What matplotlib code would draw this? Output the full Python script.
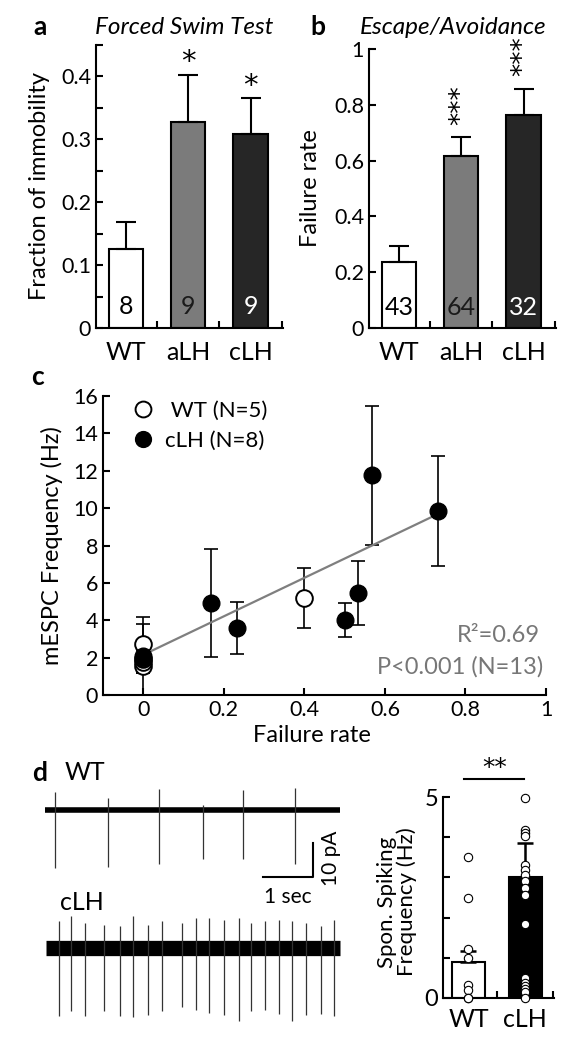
import numpy as np
import matplotlib.pyplot as plt

plt.rcParams['font.family'] = ['Lato', 'DejaVu Sans']
plt.rcParams['axes.linewidth'] = 1.5

W, H = 573, 1050


def box(left, top, right, bottom):
    # pixel box -> figure fraction [l, b, w, h]
    return [left / W, 1 - bottom / H, (right - left) / W, (bottom - top) / H]


def fxy(x, y):
    return x / W, 1 - y / H


# ---- data ----
groups = ['WT', 'aLH', 'cLH']
bar_colors = ['white', '#7b7b7b', '#262626']
count_colors = ['black', '#1a1a1a', 'white']

fst_mean = [0.125, 0.327, 0.309]
fst_sem = [0.043, 0.076, 0.056]
fst_n = ['8', '9', '9']
fst_stars = ['', '*', '*']

ea_mean = [0.237, 0.616, 0.765]
ea_sem = [0.057, 0.068, 0.093]
ea_n = ['43', '64', '32']
ea_stars = ['', '***', '***']

wt_fail = [0, 0, 0, 0, 0.4]
wt_freq = [2.75, 1.55, 1.75, 1.9, 5.2]
wt_freq_err = [1.4, 0.35, 2.05, 0.7, 1.6]
clh_fail = [0, 0, 0.167, 0.233, 0.5, 0.533, 0.567, 0.733]
clh_freq = [2.1, 2.0, 4.93, 3.6, 4.0, 5.45, 11.75, 9.85]
clh_freq_err = [0.3, 0.5, 2.9, 1.4, 0.9, 1.7, 3.7, 2.95]
fit_x = [0, 0.733]
fit_y = [2.15, 9.7]

wt_dur = 5.9
wt_spike_t = [0.2, 1.25, 2.28, 3.15, 3.95, 4.99]
wt_spike_down = [17.0, 16.8, 15.9, 14.4, 14.4, 15.9]
wt_spike_up = [5.3, 3.5, 6.2, 1.5, 5.9, 6.5]
clh_dur = 5.9
clh_spike_t = [0.27, 0.52, 0.8, 1.18, 1.5, 1.76, 2.06, 2.34, 2.74, 3.02,
               3.28, 3.58, 3.88, 4.12, 4.4, 4.68, 4.94, 5.22, 5.52, 5.78]
clh_spike_down = [19.9, 18.6, 19.9, 18.6, 20.1, 20.3, 19.6, 18.6, 17.2, 18.1,
                  19.1, 19.6, 21.4, 18.6, 18.3, 19.3, 21.6, 19.6, 19.3, 20.1]
clh_spike_up = [7.8, 9.3, 7.5, 6.9, 6.4, 9.3, 6.9, 7.8, 7.5, 8.8,
                8.8, 8.3, 8.8, 7.4, 7.8, 8.3, 7.8, 7.4, 6.4, 8.3]

spike_groups = ['WT', 'cLH']
spike_mean = [0.9, 3.0]
spike_sem = [0.27, 0.85]
spike_wt_pts = [3.5, 2.5, 1.22, 1.0, 0.32, 0.2, 0.0, 0.0]
spike_clh_pts = [4.98, 4.19, 4.1, 4.03, 3.3, 3.18, 3.06, 2.92, 2.73, 2.56,
                 1.84, 0.5, 0.37, 0.29, 0.22, 0.15, 0.0]

TICK = 15.5
CAT = 18
LAB = 17

fig = plt.figure(figsize=(W / 100, H / 100), dpi=100)


def bar_panel(ax, mean, sem, counts, stars, ylim, yticks, ylabels, star_rot):
    x = np.arange(len(mean))
    ax.bar(x, mean, width=0.55, color=bar_colors, edgecolor='black', linewidth=1.5)
    ax.errorbar(x, mean, yerr=[np.zeros(len(sem)), sem], fmt='none', ecolor='black',
                elinewidth=1.5, capsize=7, capthick=1.5)
    for i in range(len(mean)):
        ax.text(i, 0.075, counts[i], transform=ax.get_xaxis_transform(), ha='center',
                va='center', fontsize=CAT, color=count_colors[i])
        if stars[i]:
            if star_rot:
                ax.annotate(stars[i], xy=(i, mean[i] + sem[i]), xytext=(0, 9),
                            textcoords='offset points', ha='center', va='bottom',
                            rotation=90, fontsize=19, family='DejaVu Sans')
            else:
                ax.annotate(stars[i], xy=(i, mean[i] + sem[i]), xytext=(0, -1),
                            textcoords='offset points', ha='center', va='bottom',
                            fontsize=21, family='DejaVu Sans')
    ax.set_xlim(-0.48, 2.52)
    ax.set_ylim(*ylim)
    ax.set_yticks(yticks, ylabels)
    ax.set_xticks([0.5, 1.5, 2.5], ['', '', ''])
    ax.set_xticks(x, groups, minor=True)
    ax.tick_params(axis='x', which='minor', length=0, labelsize=CAT, pad=9)
    ax.tick_params(axis='both', which='major', direction='in', length=5, width=1.5,
                   labelsize=TICK)
    ax.spines[['top', 'right']].set_visible(False)


# a
ax_a = fig.add_axes(box(96, 45, 283, 328))
bar_panel(ax_a, fst_mean, fst_sem, fst_n, fst_stars, (0, 0.45),
          [0, 0.1, 0.2, 0.3, 0.4], ['0', '0.1', '0.2', '0.3', '0.4'], 0)
ax_a.set_yticks([0.05, 0.15, 0.25, 0.35, 0.45], minor=True)
ax_a.tick_params(axis='y', which='minor', direction='in', length=5, width=1.5)
fig.text(*fxy(40, 27), 'a', fontsize=19, fontweight='bold', ha='center', va='center')
fig.text(*fxy(184, 27), 'Forced Swim Test', fontsize=17.5, style='italic', ha='center', va='center')
fig.text(*fxy(40, 186), 'Fraction of immobility', fontsize=LAB, rotation=90, ha='center', va='center')

# b
ax_b = fig.add_axes(box(369, 49, 556, 328))
bar_panel(ax_b, ea_mean, ea_sem, ea_n, ea_stars, (0, 1),
          [0, 0.2, 0.4, 0.6, 0.8, 1.0], ['0', '0.2', '0.4', '0.6', '0.8', '1'], 90)
fig.text(*fxy(318, 27), 'b', fontsize=19, fontweight='bold', ha='center', va='center')
fig.text(*fxy(453, 27), 'Escape/Avoidance', fontsize=17.5, style='italic', ha='center', va='center')
fig.text(*fxy(310, 188), 'Failure rate', fontsize=LAB, rotation=90, ha='center', va='center')

# c
ax_c = fig.add_axes(box(103, 396, 546, 695))
ax_c.plot(fit_x, fit_y, color='#7f7f7f', lw=1.6, zorder=4)
ax_c.errorbar(wt_fail, wt_freq, yerr=wt_freq_err, fmt='none', ecolor='black',
              elinewidth=1.2, capsize=5, capthick=1.2, zorder=2)
ax_c.errorbar(clh_fail, clh_freq, yerr=clh_freq_err, fmt='none', ecolor='black',
              elinewidth=1.2, capsize=5, capthick=1.2, zorder=2)
ax_c.plot(wt_fail, wt_freq, 'o', ms=12, mfc='white', mec='black', mew=1.4, ls='none',
          zorder=3, label=' WT (N=5)')
ax_c.plot(clh_fail, clh_freq, 'o', ms=12, mfc='black', mec='black', ls='none',
          zorder=5, label='cLH (N=8)')
ax_c.set_xlim(-0.1, 1.0)
ax_c.set_ylim(0, 16)
ax_c.set_xticks(np.arange(0, 1.01, 0.2), ['0', '0.2', '0.4', '0.6', '0.8', '1'])
ax_c.set_yticks(np.arange(0, 17, 2))
ax_c.tick_params(direction='in', length=5, width=1.5, labelsize=TICK)
ax_c.spines[['top', 'right']].set_visible(False)
ax_c.legend(loc='upper left', bbox_to_anchor=(0.06, 0.985), frameon=False, fontsize=16,
            borderpad=0, borderaxespad=0, handletextpad=0.4, labelspacing=0.45,
            handlelength=1.2, markerscale=0.95)
fig.text(*fxy(540, 635), 'R²=0.69', fontsize=17, color='#777777', ha='right', va='center')
fig.text(*fxy(543, 667), 'P<0.001 (N=13)', fontsize=17, color='#777777', ha='right', va='center')
fig.text(*fxy(37, 377), 'c', fontsize=19, fontweight='bold', ha='center', va='center')
fig.text(*fxy(52, 546), 'mESPC Frequency (Hz)', fontsize=LAB, rotation=90, ha='center', va='center')
fig.text(*fxy(312, 735), 'Failure rate', fontsize=LAB, ha='center', va='center')

# d traces
ax_t = fig.add_axes(box(40, 780, 345, 1030))
ax_t.set_xlim(-0.1, 6.0)
ax_t.set_ylim(-64.7, 8.8)
ax_t.axis('off')
clh_base = -40.6
ax_t.plot([0, wt_dur], [0, 0], color='black', lw=4, solid_capstyle='butt')
ax_t.vlines(wt_spike_t, -np.array(wt_spike_down), wt_spike_up, color='#333333', lw=0.9)
ax_t.plot([0.02, clh_dur], [clh_base, clh_base], color='black', lw=11, solid_capstyle='butt')
ax_t.vlines(clh_spike_t, clh_base - np.array(clh_spike_down),
            clh_base + np.array(clh_spike_up), color='#333333', lw=0.9)
ax_t.plot([4.36, 5.36, 5.36], [-19.7, -19.7, -9.7], color='black', lw=1.5)
ax_t.text(4.86, -25.5, '1 sec', fontsize=15, ha='center', va='center')
ax_t.text(5.72, -14.2, '10 pA', fontsize=15, rotation=90, ha='center', va='center')
fig.text(*fxy(40, 773), 'd', fontsize=19, fontweight='bold', ha='center', va='center')
fig.text(*fxy(85, 773), 'WT', fontsize=CAT, ha='center', va='center')
fig.text(*fxy(82, 903), 'cLH', fontsize=CAT, ha='center', va='center')

# d bar chart
ax_d = fig.add_axes(box(443, 797, 554, 998))
ax_d.bar([0, 1], spike_mean, width=0.58, color=['white', 'black'], edgecolor='black', linewidth=1.5)
ax_d.errorbar([0, 1], spike_mean, yerr=[[0, 0], spike_sem], fmt='none', ecolor='black',
              elinewidth=1.8, capsize=6, capthick=1.8)
ax_d.plot(np.zeros(len(spike_wt_pts)), spike_wt_pts, 'o', ms=6, mfc='white', mec='black',
          mew=0.8, ls='none', clip_on=False, zorder=4)
ax_d.plot(np.ones(len(spike_clh_pts)), spike_clh_pts, 'o', ms=6, mfc='white', mec='black',
          mew=0.8, ls='none', clip_on=False, zorder=4)
ax_d.set_xlim(-0.45, 1.51)
ax_d.set_ylim(0, 5)
ax_d.set_yticks(range(6), ['0', '', '', '', '', '5'])
ax_d.set_xticks([0.5, 1.5], ['', ''])
ax_d.set_xticks([0, 1], spike_groups, minor=True)
ax_d.tick_params(axis='x', which='minor', length=0, labelsize=CAT, pad=7)
ax_d.tick_params(axis='both', which='major', direction='in', length=5, width=1.5, labelsize=17)
ax_d.spines[['top', 'right']].set_visible(False)
ax_d.plot([-0.08, 0.98], [5.45, 5.45], color='black', lw=1.5, clip_on=False)
ax_d.text(0.47, 5.72, '**', fontsize=18, ha='center', va='center', family='DejaVu Sans')
fig.text(*fxy(397, 902), 'Spon. Spiking\nFrequency (Hz)', fontsize=16, rotation=90,
         ha='center', va='center', linespacing=1.0)

fig.savefig('out.png', dpi=100)
